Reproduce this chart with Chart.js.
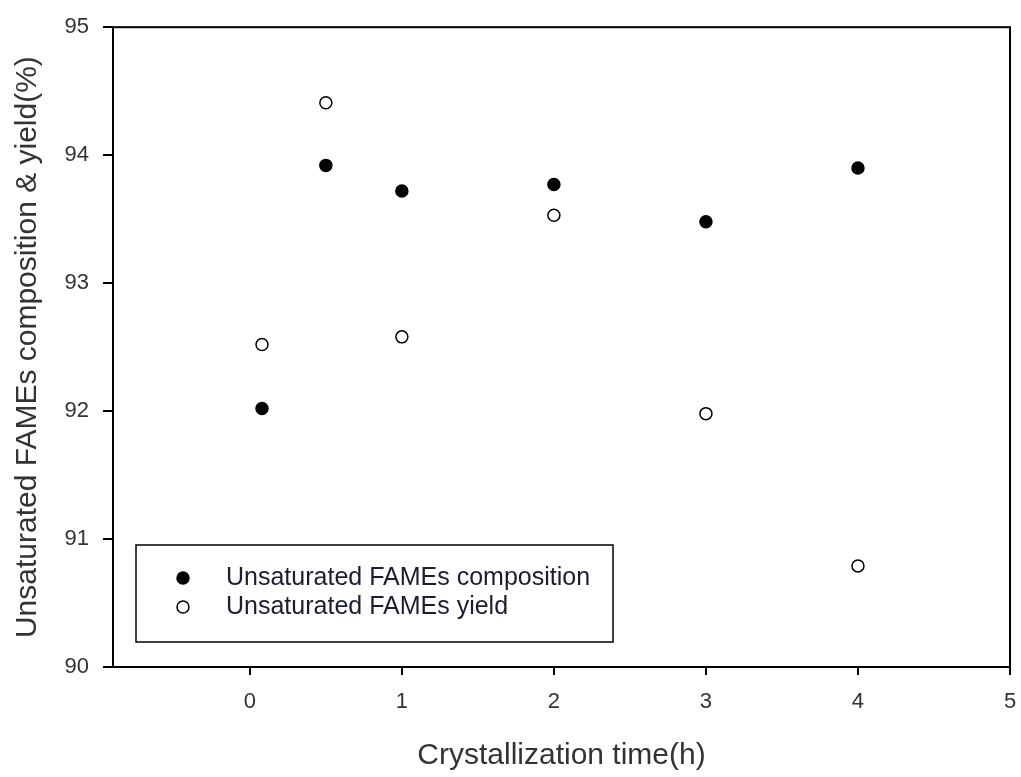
<!DOCTYPE html>
<html>
<head>
    <title>FAMEs crystallization</title>
    <script src="https://cdn.jsdelivr.net/npm/chart.js"></script>
    <style>
        body { margin: 0; background: #fff; }
        #wrap { width: 1021px; height: 777px; }
    </style>
</head>
<body>
    <div id="wrap"><canvas id="famesChart"></canvas></div>
    <script>
        // crystallization time (h)
        const times = [0.08, 0.5, 1, 2, 3, 4];
        const composition = [92.02, 93.92, 93.72, 93.77, 93.48, 93.90];
        const yieldPct = [92.52, 94.41, 92.58, 93.53, 91.98, 90.79];
        const xTicks = [0, 1, 2, 3, 4, 5];
        const seriesNames = ['Unsaturated FAMEs composition', 'Unsaturated FAMEs yield'];

        const font = 'Liberation Sans, Arial, sans-serif';

        // frame round the plot + legend box in the lower left
        const framePlugin = {
            id: 'frame',
            afterDraw(chart) {
                const { ctx, chartArea: a } = chart;
                ctx.save();
                ctx.strokeStyle = '#000';
                ctx.lineWidth = 2;
                ctx.strokeRect(a.left, a.top, a.right - a.left, a.bottom - a.top);

                // legend
                const bx = 136, by = 545, bw = 477, bh = 97;
                ctx.lineWidth = 1.5;
                ctx.strokeRect(bx, by, bw, bh);
                ctx.font = '25px ' + font;
                ctx.textBaseline = 'middle';
                chart.data.datasets.forEach((ds, i) => {
                    const y = by + 33 + i * 29;
                    ctx.fillStyle = ds.pointBackgroundColor;
                    ctx.strokeStyle = '#000';
                    ctx.lineWidth = 1.5;
                    ctx.beginPath();
                    ctx.arc(183, y, 6, 0, Math.PI * 2);
                    ctx.fill();
                    ctx.stroke();
                    ctx.fillStyle = '#1c1c33';
                    ctx.fillText(ds.label, 226, y);
                });
                ctx.restore();
            }
        };

        const ctx = document.getElementById('famesChart').getContext('2d');
        new Chart(ctx, {
            type: 'scatter',
            data: {
                datasets: [{
                    label: seriesNames[0],
                    data: times.map((t, i) => ({ x: t, y: composition[i] })),
                    pointBackgroundColor: '#000',
                    pointBorderColor: '#000',
                    pointBorderWidth: 1.5,
                    pointRadius: 6
                }, {
                    label: seriesNames[1],
                    data: times.map((t, i) => ({ x: t, y: yieldPct[i] })),
                    pointBackgroundColor: '#fff',
                    pointBorderColor: '#000',
                    pointBorderWidth: 1.5,
                    pointRadius: 6
                }]
            },
            options: {
                responsive: true,
                maintainAspectRatio: false,
                animation: false,
                layout: { padding: { top: 24, right: 11, left: 0, bottom: 0 } },
                plugins: {
                    legend: { display: false },
                    tooltip: { enabled: false }
                },
                scales: {
                    x: {
                        type: 'linear',
                        min: -0.9,
                        max: 5,
                        afterBuildTicks: axis => { axis.ticks = xTicks.map(v => ({ value: v })); },
                        afterFit: axis => {
                            axis.height = 110;
                            axis.paddingRight = 0;
                            axis.paddingLeft = 0;
                        },
                        border: { color: '#000', width: 2 },
                        grid: { drawOnChartArea: false, color: '#000', lineWidth: 2, tickLength: 8 },
                        ticks: { color: '#333', padding: 14, font: { size: 22, family: font } },
                        title: {
                            display: true,
                            text: 'Crystallization time(h)',
                            color: '#333',
                            font: { size: 30, family: font },
                            padding: { top: 0, bottom: 3 }
                        }
                    },
                    y: {
                        min: 90,
                        max: 95,
                        afterFit: axis => { axis.width = 113; },
                        border: { color: '#000', width: 2 },
                        grid: { drawOnChartArea: false, color: '#000', lineWidth: 2, tickLength: 10 },
                        ticks: { stepSize: 1, color: '#333', padding: 14, font: { size: 22, family: font } },
                        title: {
                            display: true,
                            text: 'Unsaturated FAMEs composition & yield(%)',
                            color: '#333',
                            font: { size: 30, family: font },
                            padding: { top: 10, bottom: 0 }
                        }
                    }
                }
            },
            plugins: [framePlugin]
        });
    </script>
</body>
</html>
